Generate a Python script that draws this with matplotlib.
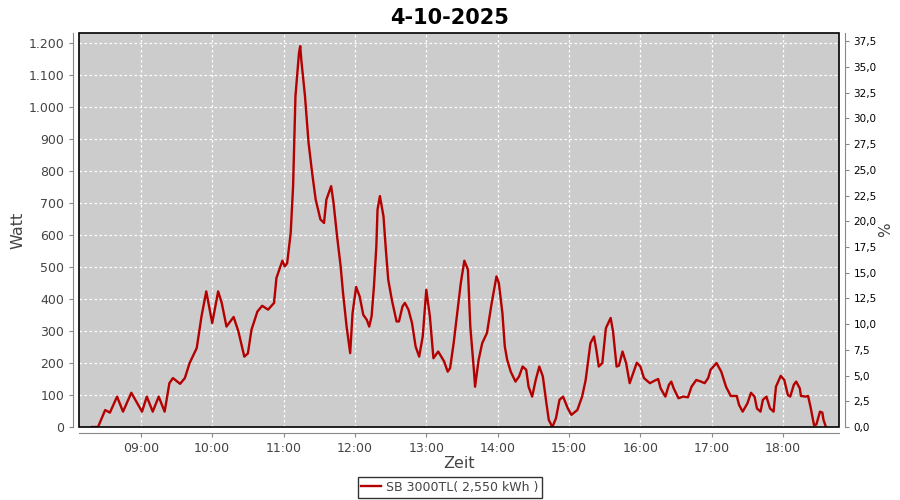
import matplotlib
matplotlib.use("Agg")
import matplotlib.pyplot as plt
import matplotlib.ticker as mtick
import matplotlib.dates as mdates
from matplotlib.patches import Rectangle
import pandas as pd

title = "4-10-2025"
series_name = "SB 3000TL( 2,550 kWh )"

zeit = [
    "08:19", "08:24", "08:30", "08:34", "08:40", "08:45", "08:52", "09:01", "09:05", "09:10",
    "09:15", "09:20", "09:24", "09:27", "09:33", "09:37", "09:41", "09:47", "09:51", "09:55",
    "10:00", "10:05", "10:08", "10:12", "10:18", "10:22", "10:27", "10:30", "10:33", "10:38",
    "10:42", "10:47", "10:52", "10:54", "10:59", "11:01", "11:03", "11:06", "11:08", "11:10",
    "11:13", "11:14", "11:15", "11:18", "11:21", "11:24", "11:27", "11:31", "11:34", "11:36",
    "11:40", "11:42", "11:45", "11:48", "11:50", "11:53", "11:56", "11:58", "12:01", "12:04",
    "12:07", "12:10", "12:12", "12:14", "12:16", "12:18", "12:19", "12:21", "12:24", "12:26",
    "12:28", "12:31", "12:35", "12:37", "12:40", "12:42", "12:45", "12:48", "12:51", "12:54",
    "12:57", "13:00", "13:03", "13:06", "13:10", "13:15", "13:18", "13:20", "13:23", "13:26",
    "13:29", "13:32", "13:35", "13:37", "13:40", "13:41", "13:44", "13:47", "13:51", "13:55",
    "13:59", "14:01", "14:04", "14:06", "14:08", "14:11", "14:15", "14:18", "14:21", "14:24",
    "14:26", "14:29", "14:32", "14:35", "14:38", "14:41", "14:43", "14:46", "14:49", "14:52",
    "14:55", "14:59", "15:02", "15:07", "15:11", "15:14", "15:18", "15:21", "15:23", "15:25",
    "15:28", "15:31", "15:35", "15:37", "15:40", "15:42", "15:45", "15:48", "15:51", "15:53",
    "15:57", "16:00", "16:03", "16:08", "16:12", "16:15", "16:17", "16:21", "16:24", "16:26",
    "16:28", "16:32", "16:36", "16:40", "16:43", "16:47", "16:51", "16:54", "16:57", "16:59",
    "17:04", "17:08", "17:12", "17:16", "17:21", "17:23", "17:26", "17:30", "17:33", "17:36",
    "17:38", "17:41", "17:43", "17:46", "17:49", "17:52", "17:54", "17:58", "18:01", "18:04",
    "18:06", "18:09", "18:11", "18:14", "18:15", "18:19", "18:21", "18:23", "18:26", "18:28",
    "18:31", "18:33", "18:34", "18:36",
]

watt = [
    0, 0, 53, 45, 95, 48, 107, 48, 95, 48,
    95, 48, 137, 153, 135, 153, 200, 247, 346, 424,
    325, 424, 388, 314, 344, 299, 220, 230, 304, 361,
    379, 367, 388, 466, 520, 502, 512, 607, 753, 1035,
    1171, 1191, 1144, 1035, 889, 795, 711, 649, 638, 711,
    753, 701, 596, 502, 419, 314, 231, 356, 438, 408,
    351, 335, 314, 346, 440, 565, 680, 722, 659, 555,
    461, 398, 330, 330, 377, 388, 367, 325, 252, 220,
    283, 429, 346, 215, 236, 205, 173, 184, 262, 356,
    450, 520, 492, 314, 179, 126, 210, 262, 294, 388,
    471, 450, 356, 252, 210, 173, 142, 158, 189, 179,
    126, 95, 147, 189, 158, 74, 22, 0, 27, 85,
    95, 58, 38, 53, 95, 147, 262, 283, 241, 189,
    200, 309, 341, 299, 189, 192, 236, 200, 137, 158,
    201, 189, 153, 137, 145, 150, 121, 95, 132, 142,
    121, 90, 95, 93, 126, 147, 142, 137, 153, 179,
    200, 173, 126, 97, 97, 69, 48, 74, 107, 95,
    58, 48, 85, 95, 58, 48, 126, 160, 147, 100,
    95, 132, 142, 121, 97, 95, 97, 64, 6, 8,
    48, 45, 22, 0,
]

df = pd.DataFrame({
    "zeit": pd.to_datetime(["2025-10-04 " + t for t in zeit]),
    "watt": watt,
})

grau = "#444444"
plt.rcParams["font.family"] = "DejaVu Sans"

fig = plt.figure(figsize=(9, 5), dpi=100)
ax = fig.add_axes([79 / 900, 73 / 500, 760 / 900, 394 / 500])
ax.set_facecolor("#cccccc")

ax.plot(df["zeit"], df["watt"], color="#b40000", lw=1.7, label=series_name)

ax.set_xlim(pd.Timestamp("2025-10-04 08:08"), pd.Timestamp("2025-10-04 18:47"))
ax.set_ylim(0, 1232)
ax.yaxis.set_major_locator(mtick.MultipleLocator(100))
ax.yaxis.set_major_formatter(
    mtick.FuncFormatter(lambda v, p: f"{v:,.0f}".replace(",", "."))
)
ax.xaxis.set_major_locator(mdates.HourLocator())
ax.xaxis.set_major_formatter(mdates.DateFormatter("%H:%M"))

ax.grid(True, color="white", ls=(0, (2, 2)), lw=0.9)

for side in ["left", "bottom"]:
    ax.spines[side].set_position(("outward", 4))
    ax.spines[side].set_color("#888888")
for side in ["top", "right"]:
    ax.spines[side].set_visible(False)
ax.tick_params(colors="#888888", labelcolor=grau, labelsize=9, length=3)

# plot border
ax.add_patch(Rectangle((0, 0), 1, 1, transform=ax.transAxes, fill=False,
                       edgecolor="black", lw=1.2, zorder=5, clip_on=False))

ax.set_xlabel("Zeit", fontsize=11.5, color=grau, labelpad=1)
ax.set_ylabel("Watt", fontsize=11.5, color=grau, labelpad=2)

ax2 = ax.twinx()
ax2.set_ylim(0, 38.3)
ax2.yaxis.set_major_locator(mtick.MultipleLocator(2.5))
ax2.yaxis.set_major_formatter(
    mtick.FuncFormatter(lambda v, p: f"{v:.1f}".replace(".", ","))
)
for side in ["left", "bottom", "top"]:
    ax2.spines[side].set_visible(False)
ax2.spines["right"].set_position(("outward", 4))
ax2.spines["right"].set_color("#888888")
ax2.tick_params(colors="#888888", labelcolor="black", labelsize=7.5, length=3)
ax2.set_ylabel("%", fontsize=11, color=grau, labelpad=1)

fig.suptitle(title, fontsize=15, fontweight="bold", y=0.985)

leg = fig.legend(loc="lower center", bbox_to_anchor=(0.5, 0.0), ncol=1,
                 fontsize=9, frameon=True, fancybox=False, handlelength=1.6,
                 handletextpad=0.4, borderpad=0.3, borderaxespad=0.2)
leg.get_frame().set_edgecolor("black")
leg.get_frame().set_linewidth(1.0)
for t in leg.get_texts():
    t.set_color(grau)

plt.savefig("out.png", dpi=100)
